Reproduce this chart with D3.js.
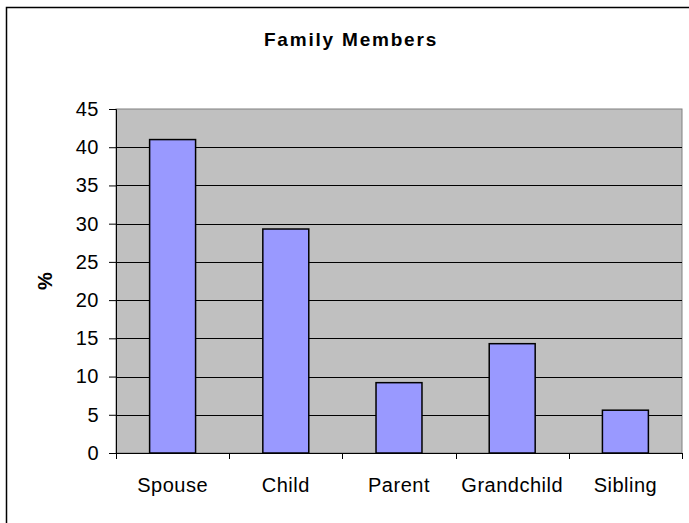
<!DOCTYPE html>
<html>
<head>
<meta charset="utf-8">
<script src="https://cdn.jsdelivr.net/npm/d3@7"></script>
<style>
    body { margin: 0; background: #fff; }
    svg { display: block; font-family: "Liberation Sans", Arial, sans-serif; }
</style>
</head>
<body>
<div id="chart"></div>
<script>
// data
let categories = ['Spouse', 'Child', 'Parent', 'Grandchild', 'Sibling'];
let percents = [41, 29.3, 9.2, 14.3, 5.6];
let yTicks = [0, 5, 10, 15, 20, 25, 30, 35, 40, 45];

function draw_chart() {
    let width = 689, height = 523;
    let margin = ({top: 109, right: 7, bottom: 70, left: 116});

    let svg = d3.select("#chart").append("svg")
        .attr("width", width)
        .attr("height", height);

    // outer frame (runs off the right and bottom edge)
    svg.append("rect")
        .attr("x", 6.5).attr("y", 7.5)
        .attr("width", width).attr("height", height)
        .attr("fill", "#fff")
        .attr("stroke", "#000")
        .attr("stroke-width", 1.5);

    let x = d3.scaleBand()
        .domain(categories)
        .range([margin.left, width - margin.right])
        .paddingInner(0.594)
        .paddingOuter(0.297);
    let y = d3.scaleLinear()
        .domain([0, 45])
        .range([height - margin.bottom, margin.top]);

    // plot area
    svg.append("rect")
        .attr("x", margin.left).attr("y", margin.top)
        .attr("width", width - margin.right - margin.left)
        .attr("height", height - margin.bottom - margin.top)
        .attr("fill", "#c0c0c0")
        .attr("stroke", "#808080");

    svg.append("g").selectAll("line")
        .data(yTicks.slice(1, -1))
        .join("line")
        .attr("x1", margin.left).attr("x2", width - margin.right)
        .attr("y1", d => Math.round(y(d)) + 0.5).attr("y2", d => Math.round(y(d)) + 0.5)
        .attr("stroke", "#000");

    svg.append("g").selectAll("rect")
        .data(percents)
        .join("rect")
        .attr("x", (d, i) => x(categories[i]))
        .attr("y", d => y(d))
        .attr("width", x.bandwidth())
        .attr("height", d => y(0) - y(d))
        .attr("fill", "#9999ff")
        .attr("stroke", "#000")
        .attr("stroke-width", 1.5);

    let y_axis = g => g
        .attr("transform", `translate(${margin.left}, 0)`)
        .call(d3.axisLeft(y).tickValues(yTicks).tickSize(7).tickPadding(10))
        .call(g => g.select(".domain").attr("stroke", "#000"))
        .call(g => g.selectAll(".tick text").attr("font-size", 20).attr("fill", "#000")
            .attr("letter-spacing", 0.5)
            .attr("font-family", "Liberation Sans, Arial, sans-serif"));
    svg.append("g").call(y_axis);

    // x axis: ticks sit between the categories
    let step = x.step();
    let bounds = d3.range(categories.length + 1).map(i => margin.left + i * step);
    let xg = svg.append("g");
    xg.append("line")
        .attr("x1", margin.left).attr("x2", width - margin.right)
        .attr("y1", y(0) + 0.5).attr("y2", y(0) + 0.5)
        .attr("stroke", "#000");
    xg.selectAll(".tk")
        .data(bounds)
        .join("line")
        .attr("class", "tk")
        .attr("x1", d => Math.round(d) + 0.5).attr("x2", d => Math.round(d) + 0.5)
        .attr("y1", y(0)).attr("y2", y(0) + 6)
        .attr("stroke", "#000");
    xg.selectAll("text")
        .data(categories)
        .join("text")
        .attr("x", d => x(d) + x.bandwidth() / 2)
        .attr("y", y(0) + 39)
        .attr("text-anchor", "middle")
        .attr("font-size", 20)
        .attr("letter-spacing", 0.5)
        .text(d => d);

    svg.append("text")
        .attr("x", 351)
        .attr("y", 46)
        .attr("text-anchor", "middle")
        .attr("font-size", 19)
        .attr("letter-spacing", 1.8)
        .attr("font-weight", "bold")
        .text("Family Members");

    svg.append("text")
        .attr("transform", `translate(52, ${(margin.top + height - margin.bottom) / 2}) rotate(-90)`)
        .attr("text-anchor", "middle")
        .attr("font-size", 20)
        .attr("font-weight", "bold")
        .text("%");
}

draw_chart();
</script>
</body>
</html>
